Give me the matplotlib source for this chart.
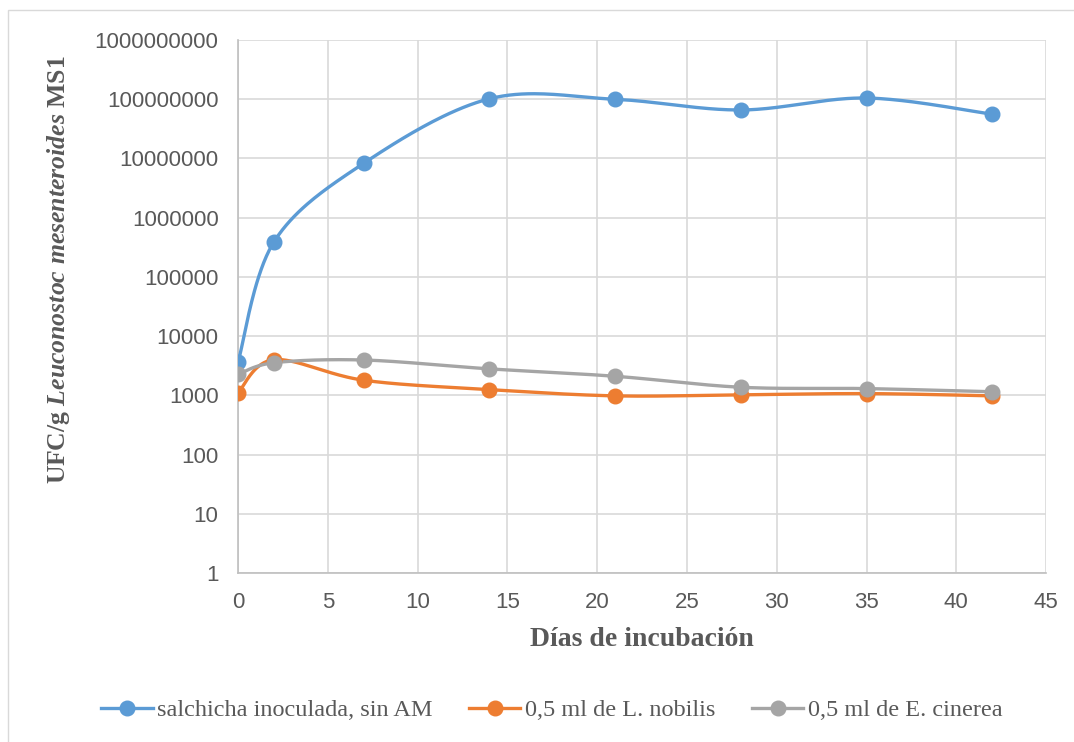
import numpy as np
import matplotlib
matplotlib.use("Agg")
import matplotlib.pyplot as plt
from matplotlib.patches import Rectangle
from matplotlib.ticker import FixedLocator, FixedFormatter

plt.rcParams["mathtext.fontset"] = "custom"
plt.rcParams["mathtext.bfit"] = "Liberation Serif:bold:italic"
plt.rcParams["mathtext.it"] = "Liberation Serif:bold:italic"
plt.rcParams["mathtext.bf"] = "Liberation Serif:bold:italic"
plt.rcParams["mathtext.rm"] = "Liberation Serif:bold"

days = [0, 2, 7, 14, 21, 28, 35, 42]
salchicha = [3600, 390000, 8300000, 102000000, 100000000, 66000000, 105000000, 56000000]
nobilis = [1100, 4000, 1800, 1250, 980, 1020, 1070, 980]
cinerea = [2250, 3550, 3950, 2800, 2100, 1370, 1300, 1150]
series_names = ["salchicha inoculada, sin AM", "0,5 ml de L. nobilis", "0,5 ml de E. cinerea"]
colors = ["#5B9BD5", "#ED7D31", "#A5A5A5"]
ytick_vals = [1, 10, 100, 1000, 10000, 100000, 1000000, 10000000, 100000000, 1000000000]
xtick_vals = [0, 5, 10, 15, 20, 25, 30, 35, 40, 45]


def smooth(x, y, n=40):
    x = np.asarray(x, float)
    ly = np.log10(np.asarray(y, float))
    P = np.column_stack([x, ly])
    P = np.vstack([P[0], P, P[-1]])
    out = []
    for i in range(1, len(P) - 2):
        p0, p1, p2, p3 = P[i - 1], P[i], P[i + 1], P[i + 2]
        c1 = p1 + (p2 - p0) / 6.0
        c2 = p2 - (p3 - p1) / 6.0
        t = np.linspace(0, 1, n)[:, None]
        b = ((1 - t) ** 3) * p1 + 3 * ((1 - t) ** 2) * t * c1 + 3 * (1 - t) * t ** 2 * c2 + t ** 3 * p2
        out.append(b if i == 1 else b[1:])
    B = np.vstack(out)
    return B[:, 0], 10 ** B[:, 1]


fig = plt.figure(figsize=(10.74, 7.42), dpi=100)
fig.patches.append(Rectangle((0.0074, -0.05), 1.1, 1.0365, transform=fig.transFigure,
                             fill=False, edgecolor="#D9D9D9", linewidth=1))
ax = fig.add_axes([0.2216, 0.2278, 0.7524, 0.7182])
ax.set_yscale("log")
ax.set_xlim(0, 45)
ax.set_ylim(1, 1e9)

for ys, c, name in zip([salchicha, nobilis, cinerea], colors, series_names):
    sx, sy = smooth(days, ys)
    ax.plot(sx, sy, color=c, lw=2.4, solid_capstyle="round", zorder=3)
    ax.plot(days, ys, "o", color=c, ms=10.5, zorder=4)
    ax.plot([], [], color=c, lw=2.4, marker="o", ms=10.5, label=name)

ax.yaxis.set_major_locator(FixedLocator(ytick_vals))
ax.yaxis.set_major_formatter(FixedFormatter([str(v) for v in ytick_vals]))
ax.yaxis.set_minor_locator(FixedLocator([]))
ax.set_xticks(xtick_vals)
ax.grid(True, color="#D9D9D9", lw=1.2)
ax.set_axisbelow(True)
for s in ["top", "right"]:
    ax.spines[s].set_visible(False)
for s in ["left", "bottom"]:
    ax.spines[s].set_color("#BFBFBF")
    ax.spines[s].set_linewidth(1.2)
ax.tick_params(length=0, labelsize=16, labelcolor="#595959")
ax.tick_params(axis="x", pad=14)
ax.tick_params(axis="y", pad=14)
for lab in ax.get_xticklabels() + ax.get_yticklabels():
    lab.set_fontfamily("Liberation Sans")

ax.set_xlabel("Días de incubación", fontfamily="Liberation Serif", fontweight="bold",
              fontsize=20, color="#595959", labelpad=10)
ax.set_ylabel(r"UFC/g $Leuconostoc\ mesenteroides$ MS1", fontfamily="Liberation Serif",
              fontweight="bold", fontsize=18.5, color="#595959")
ax.yaxis.set_label_coords(-0.205, 0.57)

leg = fig.legend(loc="center", bbox_to_anchor=(0.514, 0.043), ncol=3, frameon=False,
                 prop={"family": "Liberation Serif", "size": 17.5}, handlelength=2.1,
                 columnspacing=1.5, handletextpad=0.2)
for t in leg.get_texts():
    t.set_color("#595959")

fig.savefig("out.png", dpi=100)
